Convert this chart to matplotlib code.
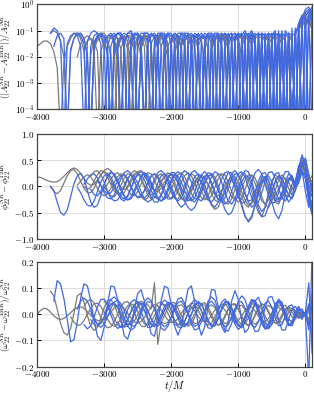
import numpy as np
import matplotlib.pyplot as plt

plt.rcParams['mathtext.fontset'] = 'cm'

step = 50  # sample spacing of every curve, in M
gray = '#7b7b7b'
blue = '#4169e1'

# ---- amplitude error, log10 value x10 (e.g. -13 -> 10^-1.3)
amp_gray_start = [-4000, -3800, -3400, -3300, -3100, -2900]
amp_gray = [
    [-16, -15, -14, -14, -15, -18, -24, -50, -22, -16,
     -13, -11, -11, -13, -18, -50, -19, -14, -12, -12,
     -14, -19, -50, -20, -14, -12, -13, -17, -50, -18,
     -13, -12, -13, -18, -50, -17, -13, -12, -14, -21,
     -50, -19, -14, -13, -15, -50, -18, -13, -12, -14,
     -22, -50, -17, -13, -12, -15, -50, -16, -12, -11,
     -13, -20, -50, -15, -12, -13, -50, -14, -12, -14,
     -50, -14, -11, -16, -50, -13, -12, -50, -9, -6,
     -4, -3, -8],
    [-11, -10, -11, -14, -20, -50,
     -18, -13, -11, -11, -13, -19, -50, -18, -13, -11,
     -11, -13, -20, -50, -17, -13, -12, -14, -22, -50,
     -17, -13, -12, -14, -50, -16, -12, -11, -14, -50,
     -15, -12, -12, -17, -50, -15, -12, -12, -16, -50,
     -14, -12, -13, -50, -14, -11, -12, -18, -50, -13,
     -11, -13, -50, -14, -12, -15, -50, -13, -12, -50,
     -14, -11, -50, -13, -13, -50, -12, -11, -50, -8,
     -5, -2, -6],
    [-20, -15, -13, -12, -13, -17, -50, -18,
     -14, -12, -12, -15, -50, -17, -13, -12, -13, -18,
     -50, -16, -12, -12, -15, -50, -16, -13, -13, -17,
     -50, -17, -13, -13, -16, -50, -15, -12, -13, -50,
     -15, -12, -12, -17, -50, -14, -12, -14, -50, -14,
     -12, -13, -50, -13, -11, -16, -50, -13, -13, -50,
     -12, -13, -50, -12, -12, -50, -13, -50, -10, -7,
     -6, -4, -3],
    [-17, -14, -13, -14, -18, -50,
     -16, -13, -12, -14, -22, -50, -15, -12, -12, -16,
     -50, -17, -13, -12, -15, -50, -15, -12, -12, -17,
     -50, -14, -12, -13, -50, -16, -12, -12, -17, -50,
     -13, -12, -15, -50, -15, -12, -13, -50, -14, -12,
     -14, -50, -13, -12, -16, -50, -12, -13, -50, -13,
     -12, -50, -13, -12, -50, -12, -14, -50, -8, -5,
     -8, -5, -9],
    [-14, -12,
     -12, -14, -19, -50, -17, -13, -12, -14, -50, -16,
     -12, -12, -16, -50, -15, -12, -12, -16, -50, -16,
     -13, -12, -15, -50, -14, -12, -14, -50, -16, -13,
     -13, -17, -50, -14, -12, -14, -50, -15, -12, -13,
     -50, -14, -12, -14, -50, -13, -12, -50, -14, -12,
     -15, -50, -12, -13, -50, -13, -50, -11, -9, -50,
     -7, -6, -10],
    [-13, -12, -13, -17, -50, -16, -13, -12,
     -14, -20, -50, -15, -12, -12, -15, -50, -15, -12,
     -12, -15, -50, -16, -12, -12, -16, -50, -14, -12,
     -13, -50, -15, -12, -13, -50, -15, -12, -14, -50,
     -13, -12, -16, -50, -13, -12, -50, -13, -13, -50,
     -13, -13, -50, -12, -14, -50, -12, -50, -10, -6,
     -9, -4, -2],
]
amp_blue_start = [-3800, -3750, -3400, -3200, -3000, -2800, -1000, -700]
amp_blue = [
    [-11, -9, -10, -14, -50, -15,
     -12, -11, -12, -16, -50, -14, -11, -10, -11, -15,
     -50, -16, -12, -11, -13, -50, -14, -11, -10, -13,
     -50, -15, -11, -11, -14, -50, -14, -11, -11, -15,
     -50, -14, -11, -11, -16, -50, -13, -11, -12, -50,
     -14, -11, -11, -16, -50, -12, -11, -14, -50, -13,
     -11, -12, -50, -12, -10, -14, -50, -11, -12, -50,
     -12, -10, -50, -11, -12, -50, -11, -50, -9, -5,
     -2, -1, -4],
    [-16, -12, -11, -13, -50,
     -17, -13, -11, -12, -15, -50, -16, -12, -11, -12,
     -16, -50, -16, -12, -11, -12, -17, -50, -15, -12,
     -11, -13, -50, -15, -12, -11, -13, -50, -15, -11,
     -11, -13, -50, -14, -11, -11, -15, -50, -12, -11,
     -13, -50, -13, -11, -11, -16, -50, -12, -11, -15,
     -50, -12, -10, -13, -50, -12, -11, -50, -12, -11,
     -50, -11, -12, -50, -10, -12, -50, -10, -50, -6,
     -4, -3, -1],
    [-12, -11, -13, -20, -50, -16, -12, -11,
     -12, -15, -50, -14, -11, -11, -14, -50, -14, -11,
     -11, -14, -50, -13, -11, -12, -17, -50, -13, -11,
     -12, -50, -15, -11, -11, -14, -50, -13, -11, -13,
     -50, -14, -11, -12, -50, -13, -11, -12, -50, -12,
     -11, -50, -12, -11, -14, -50, -11, -12, -50, -12,
     -11, -50, -12, -11, -50, -11, -50, -12, -7, -4,
     -6, -50, -3],
    [-50, -15, -12, -11,
     -13, -19, -50, -14, -11, -11, -15, -50, -14, -11,
     -12, -16, -50, -13, -11, -13, -50, -16, -12, -11,
     -15, -50, -14, -11, -12, -50, -15, -12, -12, -50,
     -13, -11, -13, -50, -12, -11, -15, -50, -12, -11,
     -14, -50, -11, -12, -50, -12, -11, -50, -13, -11,
     -50, -12, -11, -50, -11, -13, -50, -10, -50, -5,
     -3, -2, -6],
    [-14, -12, -11, -13, -19, -50, -14, -11, -11, -14,
     -50, -14, -11, -11, -15, -50, -13, -11, -12, -50,
     -14, -11, -12, -17, -50, -12, -11, -13, -50, -13,
     -11, -12, -50, -13, -11, -14, -50, -12, -11, -50,
     -13, -11, -13, -50, -11, -12, -50, -12, -11, -50,
     -12, -11, -50, -12, -50, -11, -12, -50, -8, -50,
     -5, -8, -2],
    [-16, -12, -11, -12, -16, -50,
     -13, -11, -11, -15, -50, -14, -11, -11, -16, -50,
     -13, -11, -12, -50, -14, -11, -12, -50, -14, -12,
     -12, -50, -14, -11, -12, -50, -13, -11, -14, -50,
     -12, -11, -50, -13, -11, -50, -12, -11, -50, -11,
     -12, -50, -11, -13, -50, -11, -50, -11, -8, -6,
     -50, -4, -5],
    [-12, -50, -11, -50, -12, -11, -50, -11, -50, -12,
     -50, -11, -50, -10, -50, -11, -50, -9, -50, -7,
     -50, -4, -50],
    [-11, -50, -12, -50,
     -11, -50, -10, -50, -12, -50, -9, -50, -8, -50,
     -3, -50, -6],
]

# ---- phase error, units of 0.01 rad
phase_gray_start = [-4000, -3800, -3400, -3300, -3200, -3000]
phase_gray = [
    [18, 17, 14, 11, 9, 8, 9, 13, 19, 26,
     32, 35, 32, 24, 14, 6, 2, 4, 12, 22,
     30, 34, 30, 20, 8, -2, -6, -2, 8, 20,
     28, 30, 24, 12, 0, -8, -10, -4, 8, 18,
     22, 18, 8, -4, -12, -14, -8, 4, 14, 18,
     14, 4, -8, -16, -18, -10, 2, 12, 16, 10,
     -4, -20, -34, -40, -30, -12, 4, 12, 6, -8,
     -20, -18, -4, 10, 16, 8, -6, -2, 18, 40,
     32, 8, 12],
    [0, -10, -14, -8, 6, 20,
     30, 32, 24, 10, -4, -12, -12, -4, 10, 22,
     28, 24, 12, -2, -14, -18, -12, 0, 14, 24,
     26, 16, 2, -10, -16, -14, -4, 10, 20, 22,
     14, 0, -14, -24, -26, -16, -2, 10, 14, 8,
     -6, -22, -36, -44, -40, -24, -6, 8, 12, 2,
     -16, -38, -58, -66, -56, -34, -8, 8, 12, 2,
     -16, -30, -34, -20, 0, 14, 18, 6, 24, 46,
     20, -20, -30],
    [2, 10, 18, 22, 18, 8, -4, -14,
     -18, -14, -4, 8, 18, 24, 22, 12, -2, -14,
     -20, -18, -8, 6, 18, 24, 20, 8, -6, -18,
     -24, -20, -8, 8, 20, 26, 20, 6, -10, -22,
     -26, -18, -2, 14, 24, 22, 10, -6, -20, -26,
     -20, -4, 12, 22, 20, 6, -12, -28, -34, -26,
     -8, 10, 20, 14, -2, -18, -22, -6, 24, 50,
     36, 4, -8],
    [0, -6, -2, 10, 22, 30,
     28, 18, 4, -8, -14, -12, -2, 12, 24, 30,
     26, 14, -2, -16, -24, -22, -10, 6, 20, 26,
     22, 8, -8, -22, -28, -24, -10, 6, 18, 22,
     16, 2, -14, -26, -30, -22, -6, 10, 20, 18,
     6, -10, -26, -36, -34, -20, -2, 12, 18, 10,
     -6, -22, -26, -12, 6, 16, 10, -4, 10, 34,
     52, 24, -4],
    [20, 28, 30, 22,
     8, -8, -18, -20, -12, 2, 16, 24, 22, 10,
     -6, -20, -26, -22, -8, 8, 20, 24, 16, 2,
     -12, -22, -24, -14, 2, 16, 24, 20, 6, -10,
     -22, -26, -18, -2, 14, 24, 22, 8, -10, -24,
     -30, -24, -6, 12, 22, 16, 0, -20, -36, -40,
     -28, -8, 12, 22, 14, -4, -16, -8, 16, 36,
     26, -12, -40],
    [-4, 4, 14, 22, 26, 20, 8, -6, -16, -18,
     -10, 4, 18, 26, 24, 12, -4, -18, -24, -20,
     -6, 10, 22, 26, 18, 2, -14, -24, -24, -12,
     4, 18, 24, 18, 2, -16, -30, -34, -24, -6,
     12, 24, 24, 10, -10, -32, -50, -58, -40, -12,
     10, 22, 16, 0, -16, -20, -6, 12, 30, 48,
     40, 10, 20],
]
phase_blue_start = [-3800, -3400, -3300, -3200, -3100, -2900, -3000]
phase_blue = [
    [0, -8, -30, -50, -55, -45,
     -20, 5, 20, 25, 15, -8, -30, -40, -36, -18,
     4, 20, 28, 22, 8, -8, -20, -26, -20, -6,
     4, 18, 24, 18, 4, -12, -24, -28, -20, -4,
     12, 22, 20, 8, -8, -22, -28, -22, -6, 10,
     20, 20, 8, -10, -24, -30, -22, -4, 14, 24,
     22, 8, -12, -30, -40, -34, -16, 4, 18, 20,
     8, -10, -24, -24, -8, 10, 18, 4, 30, 56,
     42, -14, -50],
    [-2, -12, -26, -36, -38, -28, -10, 8,
     20, 24, 18, 4, -12, -24, -28, -20, -4, 12,
     22, 22, 12, -4, -20, -30, -30, -18, 0, 16,
     24, 20, 6, -12, -28, -40, -46, -40, -26, -8,
     8, 20, 22, 12, -6, -26, -44, -54, -50, -34,
     -12, 8, 20, 18, 2, -22, -44, -58, -56, -38,
     -14, 8, 20, 16, 0, -18, -24, -8, 20, 44,
     30, -6, -44],
    [4, 14, 22, 24, 16, 2,
     -12, -22, -24, -16, -2, 14, 26, 30, 24, 10,
     -6, -18, -22, -16, -2, 14, 26, 30, 24, 10,
     -8, -22, -28, -22, -6, 12, 26, 30, 22, 6,
     -12, -26, -30, -22, -4, 14, 26, 28, 16, -2,
     -20, -32, -30, -14, 8, 26, 32, 24, 4, -18,
     -32, -30, -12, 12, 28, 28, 12, 2, 36, 60,
     40, 0, -20],
    [-6, -16, -18, -10,
     4, 18, 26, 24, 12, -4, -18, -26, -24, -12,
     4, 18, 26, 22, 8, -8, -22, -28, -24, -10,
     8, 22, 28, 22, 6, -12, -26, -30, -20, -2,
     16, 26, 24, 10, -8, -26, -34, -28, -10, 10,
     24, 28, 18, -2, -22, -34, -30, -12, 10, 26,
     28, 16, -4, -22, -28, -16, 4, 10, 10, 30,
     20, -30, -54],
    [10, 2,
     -8, -14, -12, -2, 10, 20, 22, 14, 0, -14,
     -22, -20, -8, 8, 20, 24, 16, 2, -14, -24,
     -24, -12, 6, 22, 30, 24, 8, -10, -24, -28,
     -18, 0, 18, 28, 24, 8, -12, -28, -34, -24,
     -4, 18, 30, 28, 10, -14, -36, -48, -40, -18,
     6, 24, 26, 8, -16, -30, -20, 8, 40, 30,
     -10, -40, 10],
    [6, 0, -10, -20, -24, -18, -4, 12,
     24, 28, 22, 8, -8, -20, -24, -16, 0, 16,
     26, 26, 14, -4, -20, -28, -24, -10, 8, 22,
     28, 20, 4, -14, -26, -26, -12, 8, 24, 30,
     22, 4, -16, -28, -26, -10, 10, 24, 26, 12,
     -8, -26, -30, -14, 8, 24, 20, 0, 20, 42,
     54, 20, -10],
    [0, -10, -22, -28, -26, -14, 2, 16, 22, 18,
     6, -10, -24, -30, -26, -12, 6, 20, 24, 16,
     0, -18, -32, -40, -34, -18, 2, 18, 24, 18,
     2, -18, -34, -40, -30, -10, 12, 26, 26, 12,
     -10, -34, -56, -68, -60, -36, -4, 18, 18, -2,
     -30, -52, -62, -46, -14, 14, 20, -2, 6, 28,
     14, -26, -48],
]

# ---- frequency error, units of 0.001
freq_gray_start = [-4000, -3800, -3500, -3300, -3200, -3000]
freq_gray = [
    [0, 14, 23, 20, 8, -6, -16, -20, -16, -6,
     6, 18, 26, 28, 22, 10, -4, -16, -24, -26,
     -20, -8, 8, 24, 34, 34, 22, 4, -14, -28,
     -34, -28, -12, 8, 26, 36, 32, 16, -4, -22,
     -32, -30, -16, 4, 22, 32, 28, 12, -8, -24,
     -30, -22, -4, 16, 30, 30, 16, -4, -22, -30,
     -24, -6, 14, 28, 28, 12, -8, -24, -28, -16,
     4, 22, 28, 16, -6, -24, -26, -8, 6, 2,
     -4, 20, 0],
    [88, 70, 20, -35, -70, -80,
     -55, 5, 70, 80, 45, -5, -45, -62, -50, -15,
     25, 52, 56, 36, 2, -30, -48, -46, -24, 8,
     36, 50, 42, 16, -16, -40, -46, -32, -4, 26,
     44, 44, 24, -6, -34, -46, -38, -12, 18, 40,
     44, 28, 0, -28, -42, -36, -12, 18, 38, 40,
     22, -8, -34, -44, -30, -2, 26, 40, 32, 6,
     -20, -34, -26, -2, 20, 24, 8, -8, 6, -4,
     2, 30, -40],
    [-10, -30, -42, -40, -24, 0, 24, 40, 42, 30,
     8, -18, -38, -46, -38, -16, 10, 32, 40, 32,
     10, -16, -36, -42, -30, -6, 18, 36, 38, 24,
     0, -24, -40, -40, -24, 0, 24, 38, 34, 14,
     -10, -32, -42, -34, -10, 16, 36, 40, 24, -2,
     -26, -40, -36, -14, 14, 34, 36, 18, -8, -30,
     -36, -22, 6, 30, 34, 14, -10, -18, -4, 8,
     -4, -20, 20],
    [30, 50, 56, 44, 18, -12,
     -38, -52, -48, -28, 0, 28, 46, 48, 32, 4,
     -24, -44, -48, -34, -6, 22, 42, 46, 30, 4,
     -22, -40, -42, -26, 2, 28, 42, 38, 18, -10,
     -32, -42, -34, -10, 18, 38, 40, 24, -4, -30,
     -42, -34, -8, 22, 40, 38, 14, -16, -38, -40,
     -20, 10, 34, 36, 12, -18, -30, -16, 4, 12,
     4, -18, 10],
    [-20, -40, -46, -36,
     -12, 16, 36, 42, 30, 6, -20, -38, -40, -26,
     -2, 22, 36, 36, 20, 120, -115, -30, -36, -30,
     -10, 14, 32, 36, 24, 2, -22, -36, -34, -16,
     8, 28, 36, 26, 2, -22, -36, -32, -12, 14,
     32, 34, 18, -8, -30, -38, -26, 0, 24, 34,
     24, 0, -24, -32, -16, 8, 20, 10, -6, -12,
     4, 30, -20],
    [50, 40, 14, -16, -40, -50, -42, -18, 12, 36,
     46, 38, 14, -14, -36, -44, -34, -10, 16, 36,
     42, 30, 6, -20, -38, -40, -24, 2, 26, 38,
     34, 14, -12, -34, -42, -30, -6, 20, 36, 36,
     18, -8, -32, -42, -32, -6, 22, 38, 34, 12,
     -14, -34, -34, -12, 16, 30, 20, 0, -12, -4,
     6, -30, 30],
]
freq_blue_start = [-3750, -3400, -3300, -3200, -3000, -2800]
freq_blue = [
    [50, 128, 115, 60, -20,
     -105, -97, -29, 61, 116, 108, 52, -24, -83, -100,
     -50, 37, 107, 105, 57, -19, -82, -95, -54, 16,
     79, 93, 51, -18, -74, -84, -27, 51, 107, 100,
     36, -45, -80, -47, 28, 95, 108, 49, -35, -80,
     -46, 29, 94, 92, 28, -46, -70, -24, 50, 90,
     57, -23, -70, -55, 0, 50, 65, 30, -25, -55,
     -40, 10, 50, 45, 0, -40, -30, 10, 30, 5,
     -5, -250, 250],
    [20, 50, 62, 50, 20, -14, -40, -50,
     -38, -10, 22, 46, 54, 40, 12, -20, -42, -46,
     -30, 0, 30, 48, 46, 24, -8, -36, -48, -38,
     -12, 20, 44, 50, 32, 0, -30, -46, -40, -16,
     16, 42, 50, 34, 2, -30, -48, -40, -12, 22,
     46, 48, 24, -12, -42, -50, -28, 10, 42, 50,
     26, -14, -44, -40, -6, 30, 36, 10, -16, -8,
     6, -60, 80],
    [-40, -56, -44, -10, 28, 56,
     58, 34, -2, -36, -54, -48, -20, 16, 46, 56,
     42, 10, -26, -50, -50, -28, 8, 40, 54, 44,
     14, -22, -48, -52, -30, 6, 40, 56, 44, 12,
     -26, -52, -54, -28, 12, 46, 58, 38, 0, -38,
     -58, -46, -10, 30, 56, 52, 18, -26, -56, -54,
     -20, 28, 58, 44, 0, -40, -44, -12, 14, 20,
     -8, 40, -90],
    [10, -20, -38, -34,
     -10, 20, 40, 42, 24, -6, -32, -42, -30, -2,
     26, 42, 36, 12, -18, -38, -38, -16, 14, 38,
     42, 26, -4, -32, -44, -32, -2, 30, 46, 38,
     10, -24, -46, -44, -16, 22, 48, 46, 18, -20,
     -46, -44, -12, 30, 54, 42, 4, -38, -56, -38,
     2, 40, 52, 26, -16, -44, -32, 4, 22, 6,
     -10, 10, 60],
    [0, 30, 56, 66, 54, 24, -14, -46, -60, -52,
     -24, 14, 48, 62, 52, 20, -20, -52, -62, -46,
     -12, 28, 58, 64, 42, 2, -38, -60, -56, -28,
     12, 50, 66, 54, 16, -28, -60, -64, -36, 8,
     50, 70, 56, 14, -34, -66, -64, -26, 26, 64,
     68, 32, -20, -60, -60, -20, 20, 30, 10, -20,
     8, 120, -150],
    [-30, -50, -48, -24, 8, 36,
     48, 40, 14, -18, -42, -48, -30, 0, 30, 46,
     40, 16, -16, -42, -48, -30, 2, 34, 48, 38,
     10, -24, -46, -44, -18, 18, 44, 48, 26, -10,
     -42, -52, -30, 10, 44, 52, 26, -16, -48, -50,
     -16, 26, 50, 36, -4, -38, -42, -10, 16, 10,
     -2, -40, 40],
]

xticks = [-4000, -3000, -2000, -1000, 0]


def draw(ax, starts, curves, color, conv):
    for t0, vals in zip(starts, curves):
        t = t0 + step * np.arange(len(vals))
        ax.plot(t, conv(np.array(vals, dtype=float)), c=color, lw=0.9)


fig = plt.figure(figsize=(3.14, 3.96), dpi=100)
ax1 = fig.add_axes([0.118, 0.724, 0.876, 0.265])
ax2 = fig.add_axes([0.118, 0.397, 0.876, 0.265])
ax3 = fig.add_axes([0.118, 0.074, 0.876, 0.265])

amp = lambda v: 10.0 ** (v / 10)
draw(ax1, amp_gray_start, amp_gray, gray, amp)
draw(ax1, amp_blue_start, amp_blue, blue, amp)
ax1.set_yscale('log')
ax1.set_ylim(1e-4, 1)
ax1.set_yticks([1e-4, 1e-3, 1e-2, 1e-1, 1])
ax1.set_yticklabels([r'$10^{-4}$', r'$10^{-3}$', r'$10^{-2}$', r'$10^{-1}$', r'$10^{0}$'])
ax1.minorticks_off()
ax1.set_ylabel(r'$(|A^{\rm NR}_{22}-A^{\rm IMR}_{22}|)/A^{\rm NR}_{22}$', fontsize=6.5)

draw(ax2, phase_gray_start, phase_gray, gray, lambda v: v / 100)
draw(ax2, phase_blue_start, phase_blue, blue, lambda v: v / 100)
ax2.set_ylim(-1, 1)
ax2.set_yticks([-1, -0.5, 0, 0.5, 1])
ax2.set_yticklabels([r'$-1.0$', r'$-0.5$', r'$0.0$', r'$0.5$', r'$1.0$'])
ax2.set_ylabel(r'$\phi^{\rm NR}_{22}-\phi^{\rm IMR}_{22}$', fontsize=6.5)

draw(ax3, freq_gray_start, freq_gray, gray, lambda v: v / 1000)
draw(ax3, freq_blue_start, freq_blue, blue, lambda v: v / 1000)
ax3.set_ylim(-0.2, 0.2)
ax3.set_yticks([-0.2, -0.1, 0, 0.1, 0.2])
ax3.set_yticklabels([r'$-0.2$', r'$-0.1$', r'$0.0$', r'$0.1$', r'$0.2$'])
ax3.set_ylabel(r'$(\omega^{\rm NR}_{22}-\omega^{\rm IMR}_{22})/\omega^{\rm NR}_{22}$', fontsize=6.5)
ax3.set_xlabel(r'$t/M$', fontsize=7.5, labelpad=-1)

for ax in (ax1, ax2, ax3):
    ax.set_xlim(-4000, 100)
    ax.set_xticks(xticks)
    ax.set_xticklabels([r'$%d$' % x for x in xticks])
    ax.grid(True, color='#dcdcdc', lw=0.7)
    ax.tick_params(direction='in', length=3, width=0.7, labelsize=6.5, pad=2)
    ax.yaxis.set_label_coords(-0.083, 0.5)
    for s in ax.spines.values():
        s.set_color('#444444')
        s.set_linewidth(0.9)

fig.savefig('out.png', dpi=100)
